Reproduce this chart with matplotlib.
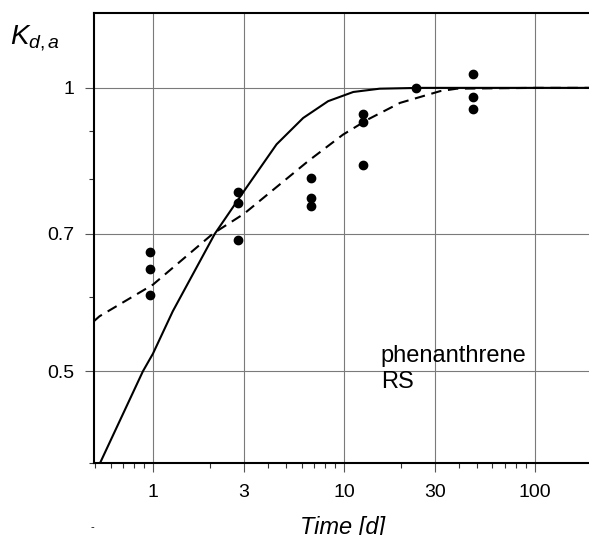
import numpy as np
import matplotlib.pyplot as plt

plt.rcParams['font.family'] = ['Liberation Sans', 'DejaVu Sans']
plt.rcParams['mathtext.fontset'] = 'custom'
plt.rcParams['mathtext.it'] = 'Liberation Sans:italic'
plt.rcParams['mathtext.rm'] = 'Liberation Sans'

# ----------------------------
# Datos
# ----------------------------
# puntos medidos (tiempo [d], Kd,a)
t_obs = [0.97, 0.97, 0.97, 2.8, 2.8, 2.8, 6.7, 6.7, 6.7,
         12.6, 12.6, 12.6, 24, 47.6, 47.6, 47.6]
k_obs = [0.669, 0.642, 0.603, 0.776, 0.754, 0.690, 0.803, 0.764, 0.749,
         0.937, 0.921, 0.829, 1.0, 1.035, 0.977, 0.950]

# modelo 1 (linea continua)
t_fit1 = [0.53, 0.886, 1.0, 1.27, 2.11, 2.96, 4.44, 6.12, 8.27, 11.2, 15.4, 25, 50, 100, 200]
k_fit1 = [0.40, 0.50, 0.522, 0.579, 0.70, 0.774, 0.871, 0.929, 0.968, 0.990, 0.998,
          1.0, 1.0, 1.0, 1.0]

# modelo 2 (linea discontinua)
t_fit2 = [0.49, 0.525, 1.0, 2.06, 3.0, 6.5, 9.9, 13.4, 19.7, 31.9, 39, 100, 200]
k_fit2 = [0.565, 0.572, 0.618, 0.70, 0.735, 0.836, 0.892, 0.926, 0.964, 0.992, 0.998,
          1.0, 1.0]

x_major = [1, 3, 10, 30, 100]
x_labels = ["1", "3", "10", "30", "100"]
x_minor = [0.5, 0.6, 0.7, 0.8, 0.9, 2, 4, 5, 6, 7, 8, 9, 20,
           40, 50, 60, 70, 80, 90, 200]
y_major = [0.5, 0.7, 1.0]
y_labels = ["0.5", "0.7", "1"]
y_minor = [0.4, 0.6, 0.8, 0.9]

# ----------------------------
# Plot
# ----------------------------
fig = plt.figure(figsize=(5.89, 5.35), dpi=100)
ax = fig.add_axes([0.1601, 0.1355, 0.8455, 0.8396])
ax.set_xscale('log')
ax.set_yscale('log')
ax.set_xlim(0.493, 200)
ax.set_ylim(0.4, 1.2)

ax.plot(t_fit1, k_fit1, color='black', lw=1.5, solid_joinstyle='round', zorder=3)
ax.plot(t_fit2, k_fit2, color='black', lw=1.5, ls=(0, (5, 3.2)), zorder=3)
ax.plot(t_obs, k_obs, 'o', color='black', ms=6, zorder=4)

ax.set_xticks(x_major)
ax.set_xticklabels(x_labels)
ax.set_xticks(x_minor, minor=True)
ax.set_xticklabels([], minor=True)
ax.set_yticks(y_major)
ax.set_yticklabels(y_labels)
ax.set_yticks(y_minor, minor=True)
ax.set_yticklabels([], minor=True)

ax.grid(True, which='major', color='#7a7a7a', lw=0.8)
ax.tick_params(which='major', direction='out', length=6.5, width=0.8,
               color='#555555', labelsize=14)
ax.tick_params(axis='x', which='major', pad=9)
ax.tick_params(axis='y', which='major', pad=8)
ax.tick_params(which='minor', direction='out', length=3.5, width=0.8, color='#333333')

for side in ['left', 'bottom', 'top']:
    ax.spines[side].set_linewidth(1.5)
ax.spines['right'].set_visible(False)

# etiqueta del compuesto / suelo
ax.text(15.6, 0.511, "phenanthrene", fontsize=17, va='baseline', ha='left')
ax.text(15.6, 0.480, "RS", fontsize=17, va='baseline', ha='left')

fig.text(10 / 589, 1 - 44 / 535, r'$K_{d,a}$', fontsize=20, va='baseline', ha='left')
fig.text(300 / 589, 1 / 535, "Time [d]", fontsize=17, style='italic',
         ha='left', va='baseline')
fig.text(92 / 589, 1 - 530 / 535, "-", fontsize=8, ha='center', va='baseline')

fig.savefig('out.png', dpi=100)
